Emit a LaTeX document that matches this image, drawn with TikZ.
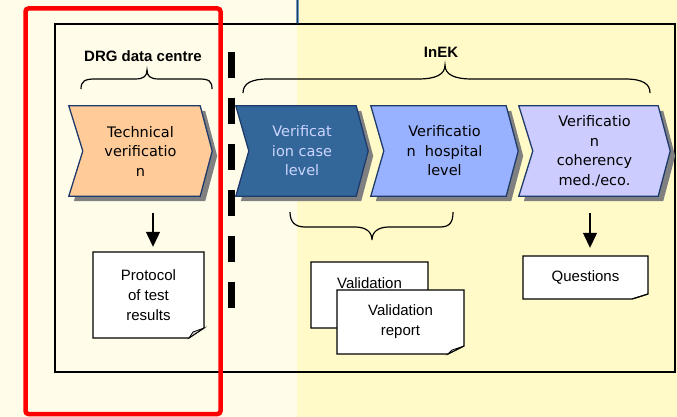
\documentclass[tikz,border=0pt]{standalone}
\usepackage{fontspec}
\newfontfamily\chevfont{DejaVu Sans}
\newfontfamily\docfont{Liberation Sans}
\usetikzlibrary{arrows.meta}
\pgfdeclarelayer{bg}
\pgfsetlayers{bg,main}
\definecolor{leftbg}{RGB}{255,253,233}
\definecolor{rightbg}{RGB}{255,250,200}
\definecolor{chevborder}{RGB}{31,59,107}
\definecolor{techfill}{RGB}{255,204,153}
\definecolor{casefill}{RGB}{51,102,153}
\definecolor{hospfill}{RGB}{153,178,255}
\definecolor{cohfill}{RGB}{204,204,255}
\definecolor{casetext}{RGB}{204,213,255}
\definecolor{shadowgray}{RGB}{128,128,128}
\definecolor{topline}{RGB}{31,63,95}
\definecolor{tophalo}{RGB}{110,150,190}
\definecolor{foldgray}{RGB}{200,200,200}

\newcommand\chevdraw[3]{%
\begin{pgfonlayer}{bg}
\fill[shadowgray] ([shift={(5,5)}]#1.north west) -- ([shift={(-7,5)}]#1.north east) -- ([shift={(5,5)}]#1.east) -- ([shift={(-7,5)}]#1.south east) -- ([shift={(5,5)}]#1.south west) -- ([shift={(5+#3,5)}]#1.west) -- cycle;
\draw[draw=chevborder, line width=1.3pt, fill=#2, line join=miter] (#1.north west) -- ([xshift=-12pt]#1.north east) -- (#1.east) -- ([xshift=-12pt]#1.south east) -- (#1.south west) -- ([xshift=#3pt]#1.west) -- cycle;
\end{pgfonlayer}}

\newcommand\docshape[5]{%
\draw[draw=black, line width=1.2pt, fill=white] ([shift={(-#2,-#3)}]#1) -- ([shift={(#2,-#3)}]#1) -- ([shift={(#2,#3-#5)}]#1) -- ([shift={(#2-#4,#3)}]#1) -- ([shift={(-#2,#3)}]#1) -- cycle;
\draw[draw=black, line width=0.8pt, fill=foldgray] ([shift={(#2-#4,#3)}]#1) -- ([shift={(#2-#4+4,#3-#5+4)}]#1) -- ([shift={(#2,#3-#5)}]#1) -- cycle;
}

\tikzset{
  chevbox/.style={inner sep=0pt, minimum height=90pt, align=center, font=\chevfont\fontsize{14.5}{19.5}\selectfont},
  docnode/.style={inner sep=0pt, align=center, font=\docfont\fontsize{15}{20}\selectfont},
  headlabel/.style={inner sep=0pt, font=\docfont\bfseries\fontsize{15}{17}\selectfont},
  bracestyle/.style={line width=1.2pt},
  arr/.style={-{Triangle[width=14pt,length=15pt]}, line width=1.2pt},
}

\begin{document}
\begin{tikzpicture}[x=1pt,y=-1pt]
\useasboundingbox (0,0) rectangle (677,417);
\begin{pgfonlayer}{bg}
\fill[leftbg] (0,0) rectangle (297,417);
\fill[rightbg] (297,0) rectangle (677,417);
\draw[line width=1.2pt] (55,24) rectangle (675,372);
\draw[tophalo, line width=3.5pt] (297.5,0) -- (297.5,23);
\draw[topline, line width=1.6pt] (297.5,0) -- (297.5,24);
\end{pgfonlayer}

% chevrons
\node[chevbox, minimum width=143pt] (tech) at (140.5,151) {Technical\\verificatio\\n};
\chevdraw{tech}{techfill}{14}
\node[chevbox, minimum width=132pt, text=casetext] (case) at (302,151) {Verificat\\ion case\\level};
\chevdraw{case}{casefill}{13}
\node[chevbox, minimum width=147pt] (hosp) at (444.5,151) {Verificatio\\n\ \ hospital\\level};
\chevdraw{hosp}{hospfill}{13}
\node[chevbox, minimum width=151pt] (coh) at (594.5,151) {Verificatio\\n\\coherency\\med./eco.};
\chevdraw{coh}{cohfill}{14}

% labels
\node[headlabel] (drg) at (143,56) {DRG data centre};
\node[headlabel] (inek) at (441,52) {InEK};

% braces
\draw[bracestyle] (81,89) .. controls (81,81) and (85,79) .. (95,79) -- (135,79) .. controls (144,79) and (147,76) .. (147,70) .. controls (147,76) and (150,79) .. (159,79) -- (199,79) .. controls (209,79) and (212,81) .. (212,89);
\draw[bracestyle] (243,93) .. controls (243,83) and (252,79) .. (268,79) -- (418,79) .. controls (435,79) and (445,75) .. (445,65) .. controls (445,75) and (455,79) .. (472,79) -- (625,79) .. controls (643,79) and (650,84) .. (650,93);
\draw[bracestyle] (290,212) .. controls (290,222) and (295,227) .. (305,227) -- (355,227) .. controls (366,227) and (372,232) .. (372,240) .. controls (372,232) and (378,227) .. (389,227) -- (440,227) .. controls (450,227) and (453,222) .. (453,212);

% dashed separator
\draw[line width=7pt, dash pattern=on 26pt off 20pt] (231.5,52) -- (231.5,312);

% documents
\coordinate (pc) at (148.5,295);
\docshape{pc}{55.5}{43}{15}{10}
\node[docnode, minimum width=111pt, minimum height=86pt] (proto) at (pc) {Protocol\\of test\\results};

\coordinate (vbc) at (369.5,295);
\docshape{vbc}{58.5}{33}{15}{8}
\node[docnode, minimum width=117pt, minimum height=66pt] (valb) at (vbc) {Validation\\\phantom{report}};

\coordinate (vfc) at (400.5,322);
\docshape{vfc}{63.5}{32}{16}{8}
\node[docnode, minimum width=127pt, minimum height=64pt] (valf) at (vfc) {Validation\\report};

\coordinate (qc) at (585.5,277.5);
\docshape{qc}{62.5}{21.5}{16}{5}
\node[docnode, minimum width=125pt, minimum height=43pt] (ques) at (qc) {Questions};

% arrows
\draw[arr, shorten >=5pt] ([xshift=12.5pt,yshift=-17pt]tech.south) -- ([xshift=4.5pt]proto.north);
\draw[arr, shorten >=8pt] ([xshift=-4.5pt,yshift=-17pt]coh.south) -- ([xshift=4.5pt]ques.north);

% red highlight
\draw[red, line width=4.5pt, rounded corners=3pt] (25.5,8.5) rectangle (220.5,414);
\end{tikzpicture}
\end{document}
